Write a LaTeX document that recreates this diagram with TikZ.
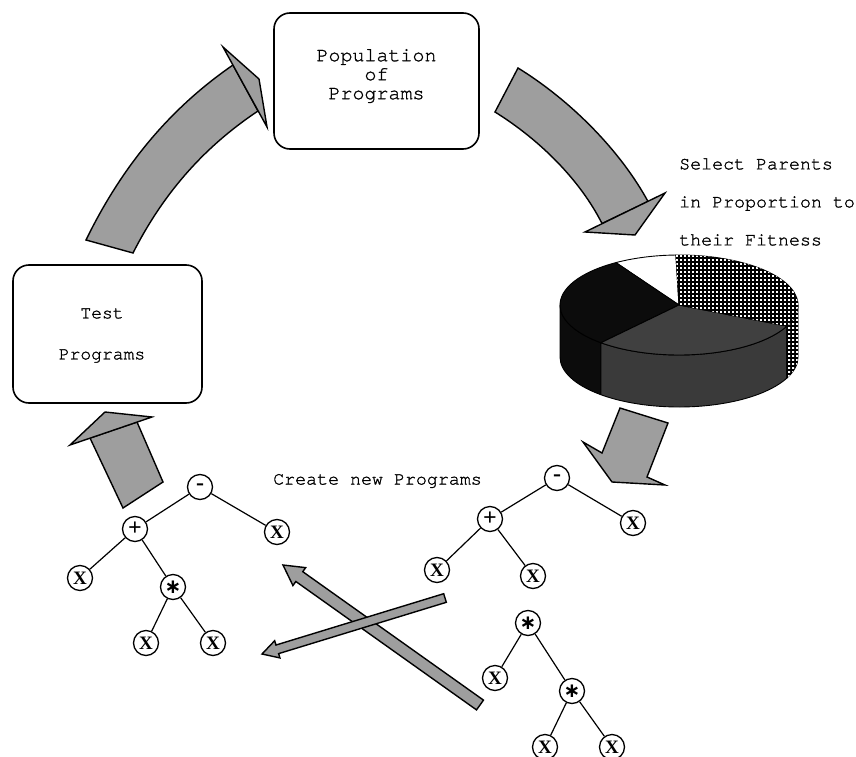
\documentclass[tikz,border=0pt]{standalone}
\usepackage{fontspec}
\setmainfont{Liberation Serif}
\newfontfamily\cour[FakeBold=1.2]{TeX Gyre Cursor}
\newfontfamily\djv{DejaVu Sans}
\usetikzlibrary{calc,patterns}
\definecolor{arrowgray}{RGB}{158,158,158}
\definecolor{pieblack}{RGB}{12,12,12}
\definecolor{piegray}{RGB}{64,64,64}
\definecolor{piegrayside}{RGB}{58,58,58}
\pgfdeclarepatternformonly{finecheck}{\pgfqpoint{0pt}{0pt}}{\pgfqpoint{4pt}{4pt}}{\pgfqpoint{4pt}{4pt}}{%
  \pgfpathrectangle{\pgfqpoint{0pt}{0pt}}{\pgfqpoint{2.4pt}{2.4pt}}\pgfusepath{fill}}
\newcommand\fatstraight[5]{% tail, tip, half width, head half width, head length
  \coordinate (#1n) at ($(#2)!#5!(#1)$);
  \filldraw[fat] ($(#1)!#3!90:(#2)$) -- ($(#1n)!#3!90:(#2)$) -- ($(#1n)!#4!90:(#2)$) -- (#2)
    -- ($(#1n)!#4!-90:(#2)$) -- ($(#1n)!#3!-90:(#2)$) -- ($(#1)!#3!-90:(#2)$) -- cycle;}
\newcommand\astx{{\djv\bfseries\fontsize{20}{20}\selectfont ∗}}
\begin{document}
\begin{tikzpicture}[x=1pt,y=-1pt,
  box/.style={draw,line width=1.6pt,rounded corners=16pt,inner sep=0pt},
  lbl/.style={font=\fontsize{18.3}{38}\cour,inner sep=0pt},
  tn/.style={circle,draw,line width=1.3pt,fill=white,minimum size=25pt,inner sep=0pt,font=\fontsize{19}{19}\selectfont\bfseries},
  fat/.style={fill=arrowgray,draw=black,line width=1.4pt,line join=miter},
  tedge/.style={line width=1.2pt},
  pie/.style={draw=black,line width=0.9pt,line join=round},
  checker/.style={pattern=finecheck,pattern color=white}]
\useasboundingbox (0,0) rectangle (856,757);

% boxes
\node[box,minimum width=205pt,minimum height=136pt] (pop) at (376.5,81) {};
\node[font=\fontsize{20}{19}\cour,align=center,inner sep=0pt] (poptext) at (376.5,76) {Population\\of\\Programs};
\node[box,minimum width=189pt,minimum height=138pt] (test) at (107.5,334) {};
\node[font=\fontsize{18}{41}\cour,align=center,inner sep=0pt] (testtext) at (102,335.5) {Test\\Programs};

% labels
\node[lbl,align=left,anchor=west] (sel) at (679,202) {Select Parents\\in Proportion to\\their Fitness};
\node[lbl,anchor=west] (create) at (273,481) {Create new Programs};

% curved arrows: bodies then heads
\filldraw[fat] (86,240) .. controls (125,160) and (175,105) .. (233,65)
  -- (258,111) .. controls (207,145) and (165,190) .. (133,253) -- cycle;
\filldraw[fat] (223,47) -- (259,79) -- (267,127) -- cycle;
\filldraw[fat] (518,68) .. controls (570,100) and (620,150) .. (648,201.5)
  -- (602,223.5) .. controls (580,180) and (540,140) .. (495,112) -- cycle;
\filldraw[fat] (585,232) -- (665,193) -- (635,235) -- cycle;
% short arrows
\filldraw[fat] (620,408) -- (668,423) -- (647,477) -- (665,485) -- (612,482) -- (583,442) -- (602,453) -- cycle;
\filldraw[fat] (90,438) -- (137,422) -- (163,482) -- (123,508) -- cycle;
\filldraw[fat] (70,445) -- (105,412) -- (152,417) -- cycle;

% pie chart
\begin{scope}[shift={(679,305)},yscale=-1]
  \filldraw[pie,fill=pieblack] (180:119 and 50) arc[start angle=180,end angle=229,x radius=119,y radius=50]
    -- ++(0,-52) arc[start angle=229,end angle=180,x radius=119,y radius=50] -- cycle;
  \filldraw[pie,fill=piegrayside] (229:119 and 50) arc[start angle=229,end angle=335,x radius=119,y radius=50]
    -- ++(0,-52) arc[start angle=335,end angle=229,x radius=119,y radius=50] -- cycle;
  \filldraw[pie,fill=black] (335:119 and 50) arc[start angle=335,end angle=360,x radius=119,y radius=50]
    -- ++(0,-52) arc[start angle=360,end angle=335,x radius=119,y radius=50] -- cycle;
  \fill[checker] (335:119 and 50) arc[start angle=335,end angle=360,x radius=119,y radius=50]
    -- ++(0,-52) arc[start angle=360,end angle=335,x radius=119,y radius=50] -- cycle;
  \filldraw[pie,fill=white] (0,0) -- (91.5:119 and 50) arc[start angle=91.5,end angle=122,x radius=119,y radius=50] -- cycle;
  \filldraw[pie,fill=pieblack] (0,0) -- (122:119 and 50) arc[start angle=122,end angle=229,x radius=119,y radius=50] -- cycle;
  \filldraw[pie,fill=piegray] (0,0) -- (229:119 and 50) arc[start angle=229,end angle=335,x radius=119,y radius=50] -- cycle;
  \filldraw[pie,fill=black] (0,0) -- (-25:119 and 50) arc[start angle=-25,end angle=91.5,x radius=119,y radius=50] -- cycle;
  \fill[checker] (0,0) -- (-25:119 and 50) arc[start angle=-25,end angle=91.5,x radius=119,y radius=50] -- cycle;
\end{scope}

% crossing arrows
\coordinate (ta) at (480,705);
\coordinate (ha) at (283,565);
\coordinate (tb) at (445,598);
\coordinate (hb) at (262,654);
\fatstraight{ta}{ha}{6pt}{11pt}{20pt}
\fatstraight{tb}{hb}{4.5pt}{9pt}{16pt}

% left tree
\node[tn] (a1) at (200,487) {\fontsize{24}{24}\selectfont -};
\node[tn] (a2) at (135,529) {\fontsize{24}{24}\selectfont +};
\node[tn] (a3) at (277,532) {X};
\node[tn] (a4) at (80,578) {X};
\node[tn] (a5) at (173,587) {\astx};
\node[tn] (a6) at (146,643) {X};
\node[tn] (a7) at (213,643) {X};
\draw[tedge] (a1) -- (a2) (a1) -- (a3) (a2) -- (a4) (a2) -- (a5) (a5) -- (a6) (a5) -- (a7);

% right trees
\node[tn] (b1) at (557,478) {\fontsize{24}{24}\selectfont -};
\node[tn] (b2) at (490,519) {\fontsize{24}{24}\selectfont +};
\node[tn] (b3) at (633,523) {X};
\node[tn] (b4) at (437,570) {X};
\node[tn] (b5) at (533,576) {X};
\draw[tedge] (b1) -- (b2) (b1) -- (b3) (b2) -- (b4) (b2) -- (b5);
\node[tn] (c1) at (528,623) {\astx};
\node[tn] (c2) at (495,678) {X};
\node[tn] (c3) at (572,691) {\astx};
\node[tn] (c4) at (545,747) {X};
\node[tn] (c5) at (612,747) {X};
\draw[tedge] (c1) -- (c2) (c1) -- (c3) (c3) -- (c4) (c3) -- (c5);
\end{tikzpicture}
\end{document}
